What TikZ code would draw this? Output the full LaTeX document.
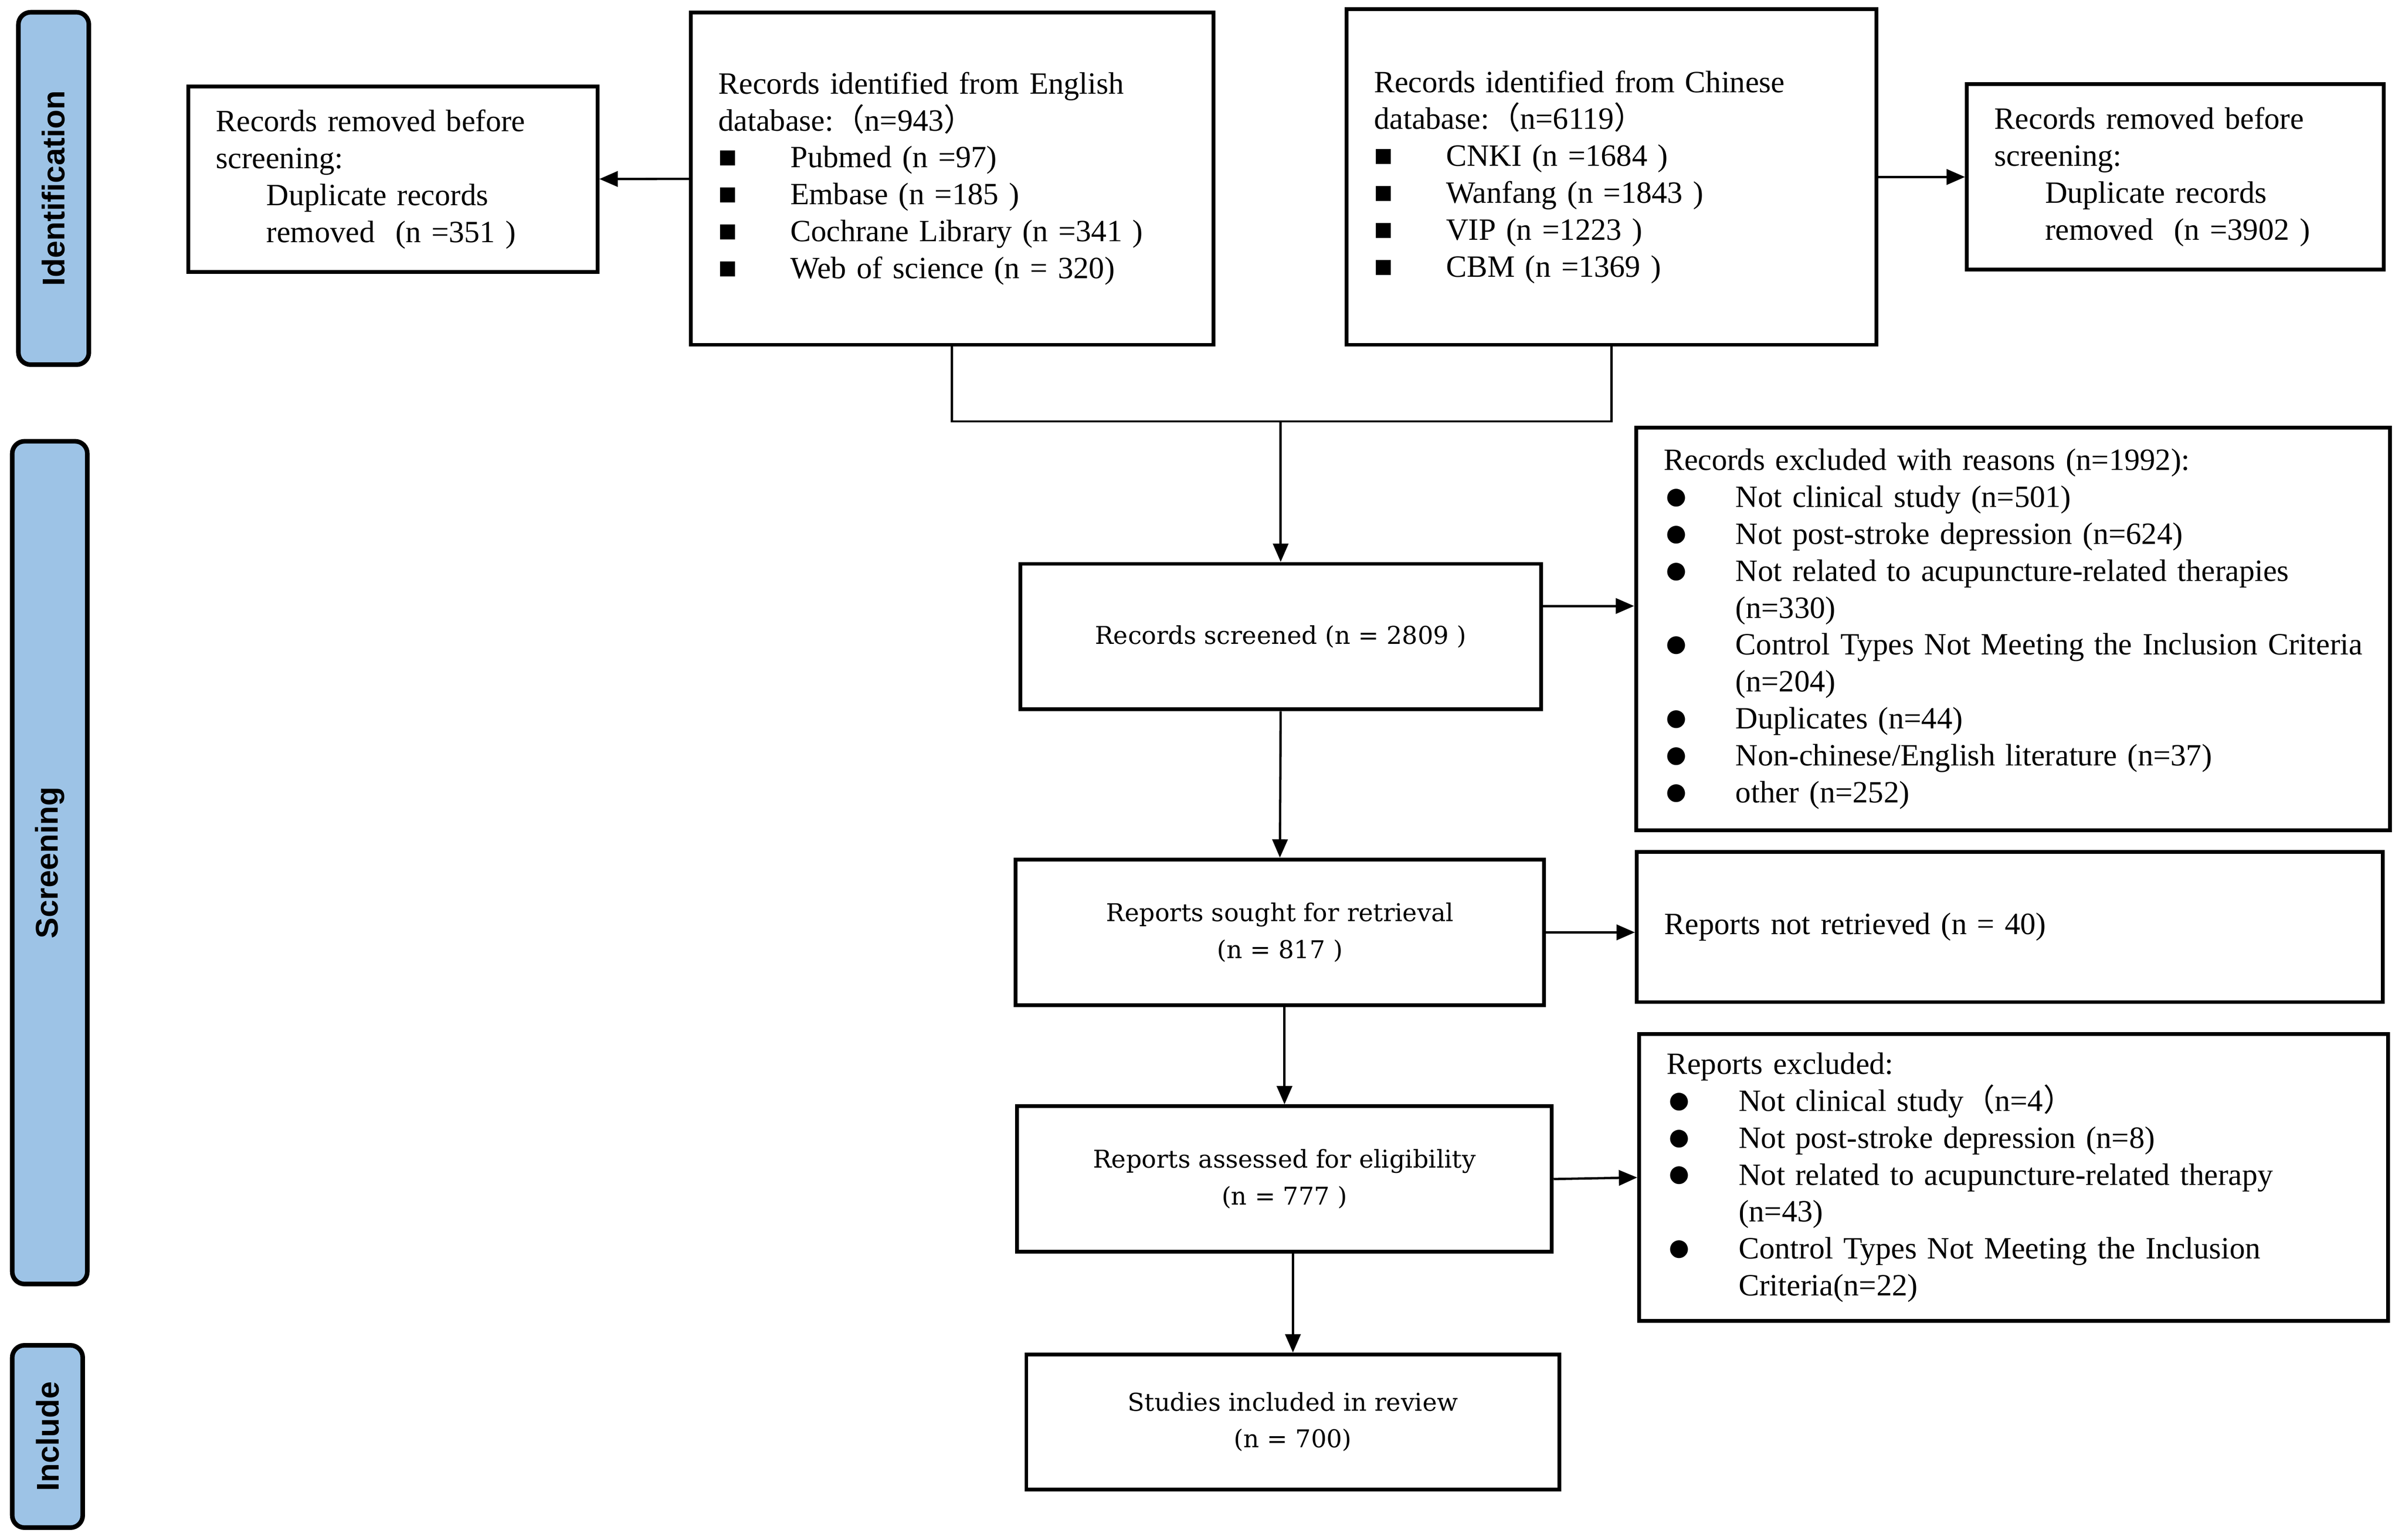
\documentclass[tikz,border=0pt]{standalone}
\usepackage{fontspec}
\setmainfont{Liberation Serif}
\newfontfamily\cjk{Noto Sans CJK SC}
\newfontfamily\boxfont{DejaVu Serif}
\newfontfamily\phasefont{Liberation Sans}
\usetikzlibrary{arrows.meta}
\definecolor{phaseblue}{HTML}{9DC3E6}

\newcommand{\sqitem}[1]{\mbox{\makebox[47pt][l]{■}#1}}
\newcommand{\dotitem}[1]{\mbox{\makebox[47pt][l]{\raisebox{-1.5pt}{\fontsize{27}{24}\selectfont ●}}#1}}
\newcommand{\wrapind}{\hspace*{47pt}}
\newcommand{\lpar}{{\cjk （}}
\newcommand{\rpar}{{\cjk ）}}

\tikzset{
  phase/.style={draw, line width=3pt, rounded corners=8pt, fill=phaseblue, rotate=90,
    font=\phasefont\bfseries\fontsize{20.5}{24}\selectfont},
  box/.style={draw, line width=2.5pt},
  lbox/.style={box, align=left, inner xsep=18pt, font=\fontsize{20.2}{24.1}\selectfont},
  cbox/.style={box, align=center, font=\boxfont\fontsize{16}{24}\selectfont},
  arr/.style={-{Triangle[length=12pt,width=10pt]}, line width=1.5pt}
}

\begin{document}
\begin{tikzpicture}[x=1pt,y=-1pt]
\useasboundingbox (0,0) rectangle (1568,1005);
% phase bands
\node[phase, minimum width=230pt, minimum height=46pt] (idph) at (35,123) {Identification};
\node[phase, minimum width=550pt, minimum height=49pt] (scph) at (32.5,563) {Screening};
\node[phase, minimum width=119pt, minimum height=46pt] (inph) at (31,937.5) {Include};

% identification
\node[lbox, text width=231pt, minimum height=121pt] (remL) at (256.5,117)
  {Records removed before\\ screening:\\ \hspace*{33pt}Duplicate records\\ \hspace*{33pt}removed\ \ (n =351 )};
\node[lbox, text width=305pt, minimum height=217pt] (eng) at (621.5,116.5)
  {Records identified from English\\ database:\lpar n=943\rpar\\ \sqitem{Pubmed (n =97)}\\ \sqitem{Embase (n =185 )}\\
   \sqitem{Cochrane Library (n =341 )}\\ \sqitem{Web of science (n = 320)}};
\node[lbox, text width=310pt, minimum height=219pt] (chn) at (1052,115.5)
  {Records identified from Chinese\\ database:\lpar n=6119\rpar\\ \sqitem{CNKI (n =1684 )}\\ \sqitem{Wanfang (n =1843 )}\\
   \sqitem{VIP (n =1223 )}\\ \sqitem{CBM (n =1369 )}};
\node[lbox, text width=236pt, minimum height=121pt] (remR) at (1420,115.5)
  {Records removed before\\ screening:\\ \hspace*{33pt}Duplicate records\\ \hspace*{33pt}removed\ \ (n =3902 )};
\coordinate (join) at (836,275);

% screening
\node[cbox, minimum width=340pt, minimum height=95pt] (scr) at (836,415.5) {Records screened (n = 2809 )};
\node[lbox, text width=456pt, minimum height=263pt] (exc1) at (1314,410.5)
  {Records excluded with reasons (n=1992):\\ \dotitem{Not clinical study (n=501)}\\ \dotitem{Not post-stroke depression (n=624)}\\
   \dotitem{Not related to acupuncture-related therapies}\\ \wrapind(n=330)\\
   \dotitem{Control Types Not Meeting the Inclusion Criteria}\\ \wrapind(n=204)\\
   \dotitem{Duplicates (n=44)}\\ \dotitem{Non-chinese/English literature (n=37)}\\ \dotitem{other (n=252)}};
\node[cbox, minimum width=345pt, minimum height=95pt] (sought) at (835.5,608.5) {Reports sought for retrieval\\ (n = 817 )};
\node[lbox, text width=451pt, minimum height=98pt] (notret) at (1312,605) {Reports not retrieved (n = 40)};
\node[cbox, minimum width=349pt, minimum height=95pt] (assess) at (838.5,769.5) {Reports assessed for eligibility\\ (n = 777 )};
\node[lbox, text width=453pt, minimum height=187pt] (exc2) at (1314.5,768.5)
  {Reports excluded:\\ \dotitem{Not clinical study\lpar n=4\rpar}\\ \dotitem{Not post-stroke depression (n=8)}\\
   \dotitem{Not related to acupuncture-related therapy}\\ \wrapind(n=43)\\
   \dotitem{Control Types Not Meeting the Inclusion}\\ \wrapind Criteria(n=22)};

% include
\node[cbox, minimum width=348pt, minimum height=88pt] (incl) at (844,928) {Studies included in review\\ (n = 700)};

% connectors
\path (eng) edge[arr] (remL);
\path (chn) edge[arr] (remR);
\draw[line width=1.5pt] (eng.south) |- (join) -| (chn.south);
\path (join) edge[arr] (scr.north);
\draw[arr] ([yshift=20pt]scr.east) -- ([yshift=20pt]scr.east -| exc1.west);
\path (scr.south) edge[arr] (sought.north);
\draw[arr] (sought.east) -- (sought.east -| notret.west);
\path (sought.south -| assess.north) edge[arr] (assess.north);
\path (assess.east) edge[arr] (exc2.west);
\path (incl.north |- assess.south) edge[arr] (incl.north);
\end{tikzpicture}
\end{document}
